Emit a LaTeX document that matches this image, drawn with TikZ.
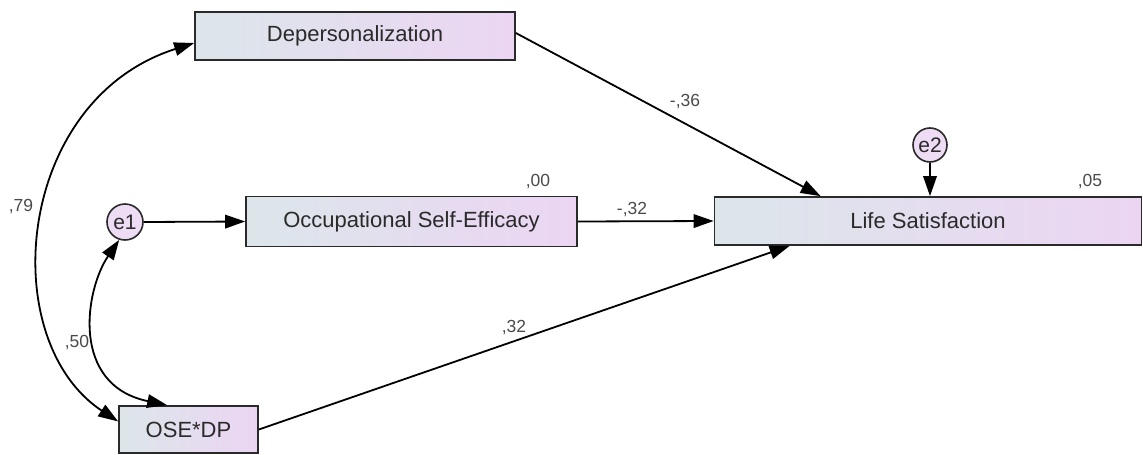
\documentclass[tikz,border=0pt]{standalone}
\usepackage{fontspec}
\setmainfont{Liberation Sans}
\usetikzlibrary{arrows.meta,calc}
\definecolor{boxL}{HTML}{DCE6EA}
\definecolor{boxR}{HTML}{ECD5F3}
\definecolor{errfill}{HTML}{EEDCF4}
\definecolor{ink}{HTML}{2A2A2A}
\tikzset{
  >={Triangle[length=20pt,width=13.5pt]},
  observed/.style={draw=ink, line width=1.7pt, left color=boxL, right color=boxR,
    shading angle=90, inner sep=0pt, font=\fontsize{22}{24}\selectfont, text=ink},
  errvar/.style={circle, draw=ink, line width=1.6pt, fill=errfill, inner sep=0pt,
    minimum size=36pt, font=\fontsize{21}{23}\selectfont, text=ink},
  coef/.style={font=\fontsize{17.5}{19}\selectfont, text=ink!85, inner sep=0pt},
  path/.style={draw=black, line width=1.8pt, ->},
  cov/.style={draw=black, line width=1.8pt, <->},
}
\begin{document}
\begin{tikzpicture}[x=1pt, y=-1pt]
\useasboundingbox (0,0) rectangle (1143,455);

% observed variables
\node[observed, minimum width=320pt, minimum height=48pt] (dep) at (355,36) {Depersonalization};
\node[observed, minimum width=331pt, minimum height=50pt] (ose) at (411.5,221.5) {Occupational Self-Efficacy};
\node[observed, minimum width=427pt, minimum height=48pt] (ls) at (928,221) {Life Satisfaction};
\node[observed, minimum width=139pt, minimum height=47pt] (int) at (188.5,429.5) {OSE*DP};

% error terms
\node[errvar] (e1) at (125,222) {e1};
\node[errvar, minimum size=34pt] (e2) at (930,145) {e2};

% regression paths
\draw[path] ($(dep.east)+(0,-3)$) -- ($(ls.north west)+(107,0)$);
\draw[path] (ose.east) -- (ls.west);
\draw[path] (int.east) -- ($(ls.south west)+(76,0)$);
\draw[path] (e1.east) -- (ose.west);
\draw[path] (e2.south) -- (e2 |- ls.north);

% covariances
\draw[cov] ($(dep.west)+(0,7)$) .. controls (15,100) and (-5,340) .. ($(int.west)+(0,-8)$);
\draw[cov] (e1.-108) .. controls (85,290) and (70,385) .. ($(int.north west)+(49,0)$);

% estimates
\node[coef] (c1) at (685,102) {-,36};
\node[coef] (c2) at (632,210) {-,32};
\node[coef] (c3) at (514,328) {,32};
\node[coef] (c4) at (21,207) {,79};
\node[coef] (c5) at (77,343) {,50};
\node[coef] (r1) at (538,182) {,00};
\node[coef] (r2) at (1090,182) {,05};
\end{tikzpicture}
\end{document}
